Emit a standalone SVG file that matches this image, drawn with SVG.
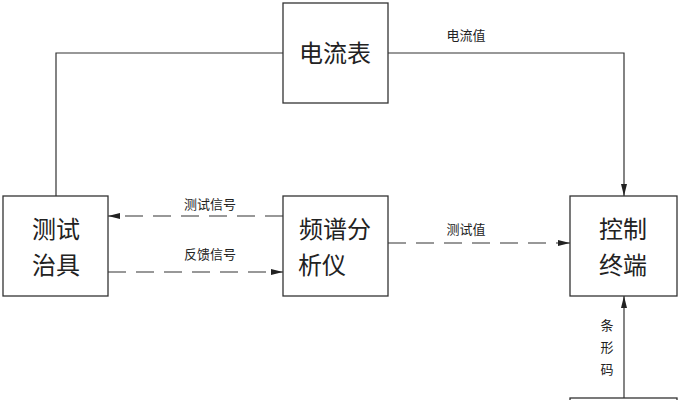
<svg xmlns="http://www.w3.org/2000/svg" width="680" height="400" viewBox="0 0 680 400">
<style>
.b{fill:#fff;stroke:#333;stroke-width:1.3}
.t{font-family:"Noto Sans CJK SC",sans-serif;font-size:24px;fill:#222;text-anchor:middle}
.s{font-family:"Noto Sans CJK SC",sans-serif;font-size:13px;fill:#222;text-anchor:middle}
.l{fill:none;stroke:#333;stroke-width:1.2}
.d{stroke-dasharray:18 10}
</style>
<defs><marker id="a" markerWidth="12" markerHeight="6" refX="12" refY="3" orient="auto" markerUnits="userSpaceOnUse"><path d="M0,0L12,3L0,6z" fill="#222"/></marker></defs>
<rect width="680" height="400" fill="#fff"/>
<g id="connectors">
<path class="l" d="M56,196V53H283M388,53H624V196" marker-end="url(#a)"/>
<path class="l d" d="M283,216H108" marker-end="url(#a)"/>
<path class="l d" d="M108,272H283" marker-end="url(#a)"/>
<path class="l d" d="M388,243H570" marker-end="url(#a)"/>
<path class="l" d="M624,400V296" marker-end="url(#a)"/>
<text class="s" x="466" y="40">电流值</text>
<text class="s" x="210" y="209">测试信号</text>
<text class="s" x="210" y="259">反馈信号</text>
<text class="s" x="466" y="234">测试值</text>
<text class="s" x="607" y="330">条</text>
<text class="s" x="607" y="352">形</text>
<text class="s" x="607" y="374">码</text>
</g>
<g id="ammeter"><rect class="b" x="283" y="3" width="105" height="100"/><text class="t" x="335" y="62">电流表</text></g>
<g id="fixture"><rect class="b" x="3" y="196" width="105" height="100"/><text class="t" x="56" y="238">测试</text><text class="t" x="56" y="274">治具</text></g>
<g id="analyzer"><rect class="b" x="283" y="196" width="105" height="100"/><text class="t" x="335" y="238">频谱分</text><text class="t" x="322" y="274">析仪</text></g>
<g id="terminal"><rect class="b" x="570" y="196" width="107" height="100"/><text class="t" x="623" y="238">控制</text><text class="t" x="623" y="274">终端</text></g>
<g id="bottom"><rect class="b" x="570" y="398" width="107" height="20"/></g>
</svg>
